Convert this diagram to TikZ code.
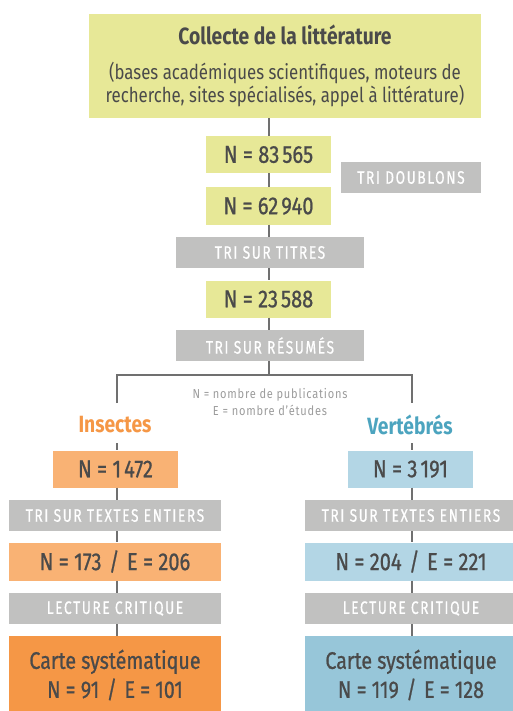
\documentclass[tikz,border=0pt]{standalone}
\usepackage{fontspec}
\setmainfont{Fira Sans}[FakeStretch=0.82]
\newfontfamily\medfont{Fira Sans}[FakeStretch=0.82, FakeBold=0.8]
\newfontfamily\lblfont{Fira Sans}[FakeStretch=0.76, FakeBold=0.6, LetterSpace=9]
\newfontfamily\legfont{Fira Sans}[FakeStretch=0.85, LetterSpace=6]
\definecolor{ylw}{HTML}{E7E897}
\definecolor{gry}{HTML}{C1C1C0}
\definecolor{orl}{HTML}{F9B274}
\definecolor{ord}{HTML}{F59746}
\definecolor{bll}{HTML}{B3D6E5}
\definecolor{bld}{HTML}{97C6D9}
\definecolor{txt}{HTML}{4A4A4A}
\definecolor{lin}{HTML}{707070}
\definecolor{tealc}{HTML}{4CA4BF}
\definecolor{leg}{HTML}{9C9C9C}
\newcommand{\slsep}{\hspace{7.5pt}/\hspace{7.5pt}}
\newcommand{\thsp}{\hspace{3pt}}
\tikzset{
  cnt/.style={inner sep=0pt, text=txt, align=center, font=\medfont\fontsize{24.5}{28}\selectfont},
  ybox/.style={cnt, fill=ylw, minimum width=125pt, minimum height=37pt},
  gbox/.style={inner sep=0pt, fill=gry, text=white, minimum height=31pt, font=\lblfont\fontsize{18}{20}\selectfont},
  obox/.style={cnt, fill=orl, minimum width=125pt, minimum height=37pt},
  bbox/.style={cnt, fill=bll, minimum width=125pt, minimum height=37pt},
  wide/.style={minimum width=212pt},
  conn/.style={draw=lin, line width=2pt},
}
\begin{document}
\begin{tikzpicture}[x=1pt,y=-1pt]
\useasboundingbox (0,0) rectangle (512,711);
% top
\node[inner sep=0pt, fill=ylw, minimum width=392pt, minimum height=104pt, text=txt, align=center,
  font=\fontsize{20.5}{23}\selectfont] (top) at (285,66)
  {\bfseries\fontsize{23.5}{26}\selectfont Collecte de la littérature\\[12pt]
   \mdseries\fontsize{20.5}{23}\selectfont (bases académiques scientifiques, moteurs de\\ recherche, sites spécialisés, appel à littérature)};
\node[ybox] (n1) at (268.5,154.5) {N = 83\thsp565};
\node[ybox] (n2) at (268.5,206) {N = 62\thsp940};
\node[gbox, minimum width=140pt] (dbl) at (411,177.5) {TRI DOUBLONS};
\node[gbox, minimum width=188pt] (tit) at (270,252.5) {TRI SUR TITRES};
\node[ybox] (n3) at (268.5,299) {N = 23\thsp588};
\node[gbox, minimum width=188pt] (res) at (270,345.5) {TRI SUR RÉSUMÉS};
\coordinate (bar) at (268,375);
\coordinate (bl) at (116.5,375);
\coordinate (br) at (412,375);
\coordinate (dl) at (116.5,403);
\coordinate (dr) at (412,403);
\node[text=leg, align=center, inner sep=0pt, font=\legfont\fontsize{13}{17}\selectfont] (legend) at (270,402.5)
  {N = nombre de publications\\E = nombre d’études};
\node[text=ord, inner sep=0pt, font=\bfseries\fontsize{23.5}{26}\selectfont] (ins) at (115,425) {Insectes};
\node[text=tealc, inner sep=0pt, font=\bfseries\fontsize{23.5}{26}\selectfont] (ver) at (410,425) {Vertébrés};
\coordinate (il) at (116.5,443);
\coordinate (ir) at (412,443);
% left column
\node[obox] (l1) at (115.5,469) {N = 1\thsp472};
\node[gbox, wide] (l2) at (115,515.5) {TRI SUR TEXTES ENTIERS};
\node[cnt, fill=orl, wide, minimum height=38pt] (l3) at (115,561.5) {N = 173\slsep E = 206};
\node[gbox, wide] (l4) at (115,608.5) {LECTURE CRITIQUE};
\node[cnt, fill=ord, wide, minimum height=78pt, font=\medfont\fontsize{24}{29}\selectfont] (l5) at (115,675) {Carte systématique\\N = 91\slsep E = 101};
% right column
\node[bbox] (r1) at (410.5,469) {N = 3\thsp191};
\node[gbox, wide] (r2) at (411,515.5) {TRI SUR TEXTES ENTIERS};
\node[cnt, fill=bll, wide, minimum height=38pt] (r3) at (411,561.5) {N = 204\slsep E = 221};
\node[gbox, wide] (r4) at (411,608.5) {LECTURE CRITIQUE};
\node[cnt, fill=bld, wide, minimum height=78pt, font=\medfont\fontsize{24}{29}\selectfont] (r5) at (411,675) {Carte systématique\\N = 119\slsep E = 128};
% connectors
\draw[conn] (n1.north |- top.south) -- (n1.north);
\draw[conn] (n1.south) -- (n2.north);
\draw[conn] (n2.south) -- (n2.south |- tit.north);
\draw[conn] (n3.north |- tit.south) -- (n3.north);
\draw[conn] (n3.south) -- (n3.south |- res.north);
\draw[conn] (n3.south |- res.south) -- (n3.south |- bar);
\draw[conn] (dl) -- (bl) -- (br) -- (dr);
\draw[conn] (il) -- (il |- l1.north);
\draw[conn] (il |- l1.south) -- (il |- l2.north);
\draw[conn] (il |- l2.south) -- (il |- l3.north);
\draw[conn] (il |- l3.south) -- (il |- l4.north);
\draw[conn] (il |- l4.south) -- (il |- l5.north);
\draw[conn] (ir) -- (ir |- r1.north);
\draw[conn] (ir |- r1.south) -- (ir |- r2.north);
\draw[conn] (ir |- r2.south) -- (ir |- r3.north);
\draw[conn] (ir |- r3.south) -- (ir |- r4.north);
\draw[conn] (ir |- r4.south) -- (ir |- r5.north);
\end{tikzpicture}
\end{document}
